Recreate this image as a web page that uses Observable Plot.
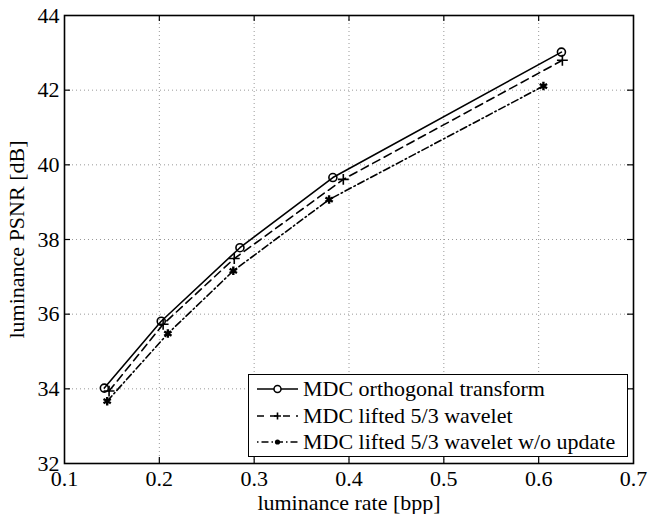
<!DOCTYPE html>
<html>
<head>
<meta charset="utf-8">
<script src="https://cdn.jsdelivr.net/npm/d3@7"></script>
<script src="https://cdn.jsdelivr.net/npm/@observablehq/plot@0.6"></script>
<style>
  html, body { margin: 0; padding: 0; background: #fff; }
  #wrap { position: relative; width: 648px; height: 514px; font-family: "Liberation Serif", "Times New Roman", serif; }
  #legend { position: absolute; left: 248px; top: 374px; width: 378px; height: 80px; border: 1px solid #000; background: #fff; box-sizing: content-box; padding-top: 1px; }
  .row { height: 26.5px; line-height: 26.5px; font-size: 22px; white-space: nowrap; display: flex; align-items: center; }
  .row svg { margin-left: 8px; margin-right: 5px; flex: none; }
</style>
</head>
<body>
<div id="wrap"></div>
<script>
// ---- data ----
const seriesNames = ["MDC orthogonal transform", "MDC lifted 5/3 wavelet", "MDC lifted 5/3 wavelet w/o update"];
const rateOrth = [0.142, 0.202, 0.285, 0.383, 0.624];
const psnrOrth = [34.02, 35.81, 37.78, 39.66, 43.02];
const rateLift = [0.147, 0.204, 0.279, 0.394, 0.625];
const psnrLift = [33.94, 35.73, 37.49, 39.61, 42.80];
const rateNoUpd = [0.145, 0.209, 0.278, 0.379, 0.605];
const psnrNoUpd = [33.67, 35.48, 37.16, 39.07, 42.11];
const xTicks = [0.1, 0.2, 0.3, 0.4, 0.5, 0.6, 0.7];
const yTicks = [32, 34, 36, 38, 40, 42, 44];
const xLabel = "luminance rate [bpp]";
const yLabel = "luminance PSNR [dB]";

const toRows = (xs, ys, s) => xs.map((x, i) => ({x, y: ys[i], s}));
const orth = toRows(rateOrth, psnrOrth, seriesNames[0]);
const lift = toRows(rateLift, psnrLift, seriesNames[1]);
const noupd = toRows(rateNoUpd, psnrNoUpd, seriesNames[2]);

const xd = [xTicks[0], xTicks[xTicks.length - 1]];
const yd = [yTicks[0], yTicks[yTicks.length - 1]];
const tickLenY = (yd[1] - yd[0]) * 6 / 448;
const tickLenX = (xd[1] - xd[0]) * 6 / 569;
const innerX = xTicks.slice(1, -1);
const innerY = yTicks.slice(1, -1);

const chart = Plot.plot({
  width: 648,
  height: 514,
  marginLeft: 64,
  marginRight: 15,
  marginTop: 15,
  marginBottom: 51,
  style: {fontFamily: "Liberation Serif, Times New Roman, serif", fontSize: "22px", background: "#fff", color: "#000"},
  x: {domain: xd, ticks: xTicks},
  y: {domain: yd, ticks: yTicks},
  marks: [
    // dotted grid
    Plot.ruleX(innerX, {stroke: "#999", strokeWidth: 1, strokeDasharray: "1,3"}),
    Plot.ruleY(innerY, {stroke: "#999", strokeWidth: 1, strokeDasharray: "1,3"}),
    // inward ticks on four sides
    Plot.ruleX(innerX, {x: d => d, y1: yd[0], y2: yd[0] + tickLenY, stroke: "#000", strokeWidth: 1.2}),
    Plot.ruleX(innerX, {x: d => d, y1: yd[1] - tickLenY, y2: yd[1], stroke: "#000", strokeWidth: 1.2}),
    Plot.ruleY(innerY, {y: d => d, x1: xd[0], x2: xd[0] + tickLenX, stroke: "#000", strokeWidth: 1.2}),
    Plot.ruleY(innerY, {y: d => d, x1: xd[1] - tickLenX, x2: xd[1], stroke: "#000", strokeWidth: 1.2}),
    // series
    Plot.line(orth, {x: "x", y: "y", stroke: "#000", strokeWidth: 1.6}),
    Plot.line(lift, {x: "x", y: "y", stroke: "#000", strokeWidth: 1.6, strokeDasharray: "8,5"}),
    Plot.line(noupd, {x: "x", y: "y", stroke: "#000", strokeWidth: 1.6, strokeDasharray: "7,3,1.5,3"}),
    Plot.dot(orth, {x: "x", y: "y", r: 4, stroke: "#000", strokeWidth: 1.6, fill: "none"}),
    Plot.dot(lift, {x: "x", y: "y", r: 3.6, symbol: "plus", stroke: "#000", strokeWidth: 1.6}),
    Plot.dot(noupd, {x: "x", y: "y", r: 4, symbol: "asterisk", stroke: "#000", strokeWidth: 2.4}),
    Plot.frame({stroke: "#000", strokeWidth: 1.6}),
    Plot.axisX(xTicks, {tickSize: 0, tickPadding: 7, tickFormat: d => String(d), label: xLabel, labelAnchor: "center", labelArrow: "none", labelOffset: 46, fontSize: 22}),
    Plot.axisY(yTicks, {tickSize: 0, tickPadding: 5, tickFormat: d => String(d), label: yLabel, labelAnchor: "center", labelArrow: "none", labelOffset: 56, fontSize: 22})
  ]
});

const wrap = document.getElementById("wrap");
wrap.appendChild(chart);

// legend overlay (inside plot area, lower right)
const legend = document.createElement("div");
legend.id = "legend";
const swatch = [
  `<line x1="0" y1="7" x2="41" y2="7" stroke="#000" stroke-width="1.6"/><circle cx="20.5" cy="7" r="3.5" fill="#fff" stroke="#000" stroke-width="1.5"/>`,
  `<line x1="0" y1="7" x2="41" y2="7" stroke="#000" stroke-width="1.6" stroke-dasharray="7,6"/><path d="M17 7h7M20.5 3.5v7" stroke="#000" stroke-width="1.6"/>`,
  `<line x1="0" y1="7" x2="41" y2="7" stroke="#000" stroke-width="1.6" stroke-dasharray="1.5,3,7,3"/><circle cx="20.5" cy="7" r="2.6" fill="#000"/>`
];
seriesNames.forEach((name, i) => {
  const row = document.createElement("div");
  row.className = "row";
  row.innerHTML = `<svg width="41" height="14" viewBox="0 0 41 14">${swatch[i]}</svg><span>${name}</span>`;
  legend.appendChild(row);
});
wrap.appendChild(legend);
</script>
</body>
</html>
